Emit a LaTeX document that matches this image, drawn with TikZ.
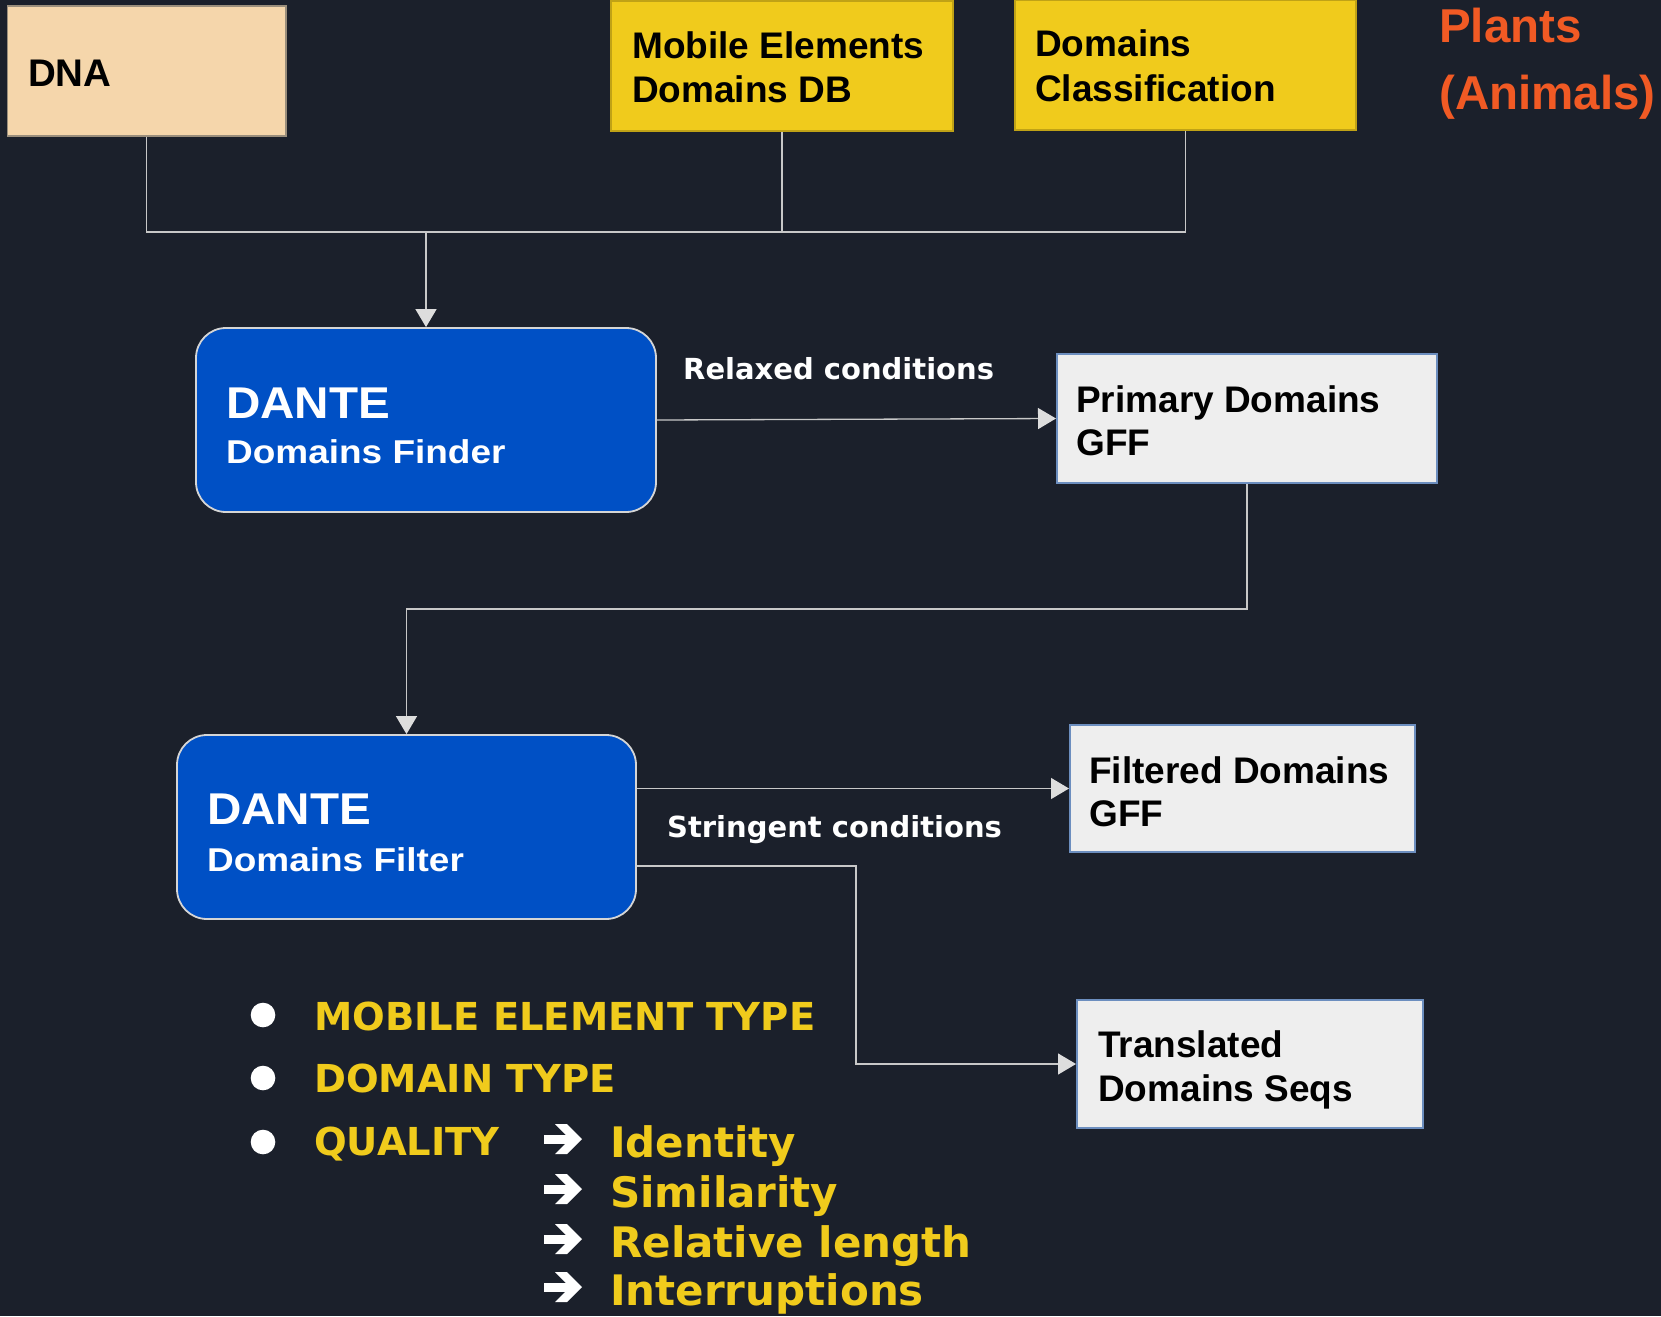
\documentclass[tikz,border=0pt]{standalone}
\usepackage{fontspec}
\usetikzlibrary{arrows.meta,calc}
\setmainfont{Liberation Sans}
\newfontfamily\dv{DejaVu Sans}
\newfontfamily\lsA{Liberation Sans}[FakeStretch=1.07]
\newfontfamily\lsB{Liberation Sans}[FakeStretch=1.12]
\definecolor{bg}{HTML}{1B202B}
\definecolor{yel}{HTML}{F0CB1C}
\definecolor{dnafill}{HTML}{F5D6AB}
\definecolor{dnaline}{HTML}{9A8E7C}
\definecolor{bluefill}{HTML}{0050C5}
\definecolor{blueline}{HTML}{D5D5D5}
\definecolor{grayfill}{HTML}{EEEEEE}
\definecolor{grayline}{HTML}{6C8EBF}
\definecolor{lineC}{HTML}{C8C8C8}
\definecolor{tipC}{HTML}{DDDDDD}
\definecolor{orangeC}{HTML}{F15A24}
\begin{document}
\begin{tikzpicture}[x=1pt,y=-1pt,
  conn/.style={draw=lineC, line width=1.3pt},
  arr/.style={conn, -{Triangle[width=21pt,length=18pt,color=tipC]}},
  boxbase/.style={rectangle, inner sep=0pt, line width=1.5pt},
  dnabox/.style={boxbase, fill=dnafill, draw=dnaline},
  yelbox/.style={boxbase, fill=yel, draw=yel!80!black},
  bluebox/.style={boxbase, fill=bluefill, draw=blueline, rounded corners=30pt, line width=1.8pt},
  graybox/.style={boxbase, fill=grayfill, draw=grayline, line width=2pt},
  txt/.style={inner sep=0pt, anchor=base west},
  boxtxt/.style={txt, font=\fontsize{37}{44}\selectfont\bfseries, text=black},
  dante/.style={txt, font=\lsA\fontsize{44.5}{50}\selectfont\bfseries, text=white},
  dantesub/.style={txt, font=\lsB\fontsize{33}{40}\selectfont\bfseries, text=white},
  condtxt/.style={txt, font=\dv\fontsize{29}{34}\selectfont\bfseries, text=white},
  plant/.style={txt, font=\fontsize{47.5}{52}\selectfont\bfseries, text=orangeC},
  bultxt/.style={txt, font=\dv\fontsize{38.5}{44}\selectfont\bfseries, text=yel},
  subtxt/.style={txt, font=\dv\fontsize{42}{46}\selectfont\bfseries, text=yel},
  bulletdot/.style={circle, fill=white, inner sep=0pt, minimum size=24.6pt},
  heavyarrow/.pic={
    \fill[white] (0,-13.5) rectangle (30,-22);
    \fill[white] (11,-33) -- (23,-33) -- (38,-18) -- (23,-3) -- (11,-3) -- (26,-18) -- cycle;
  }
]
\fill[bg] (0,0) rectangle (1661,1316);
\useasboundingbox (0,0) rectangle (1661,1316);

% boxes
\node[dnabox, minimum width=278.5pt, minimum height=130pt] (dna) at (146.75,71) {};
\node[yelbox, minimum width=342pt, minimum height=130pt] (mob) at (782,66) {};
\node[yelbox, minimum width=341pt, minimum height=130pt] (cls) at (1185.5,65) {};
\node[bluebox, minimum width=460pt, minimum height=184pt] (finder) at (426,420) {};
\node[bluebox, minimum width=459pt, minimum height=184pt] (filter) at (406.5,827) {};
\node[graybox, minimum width=380pt, minimum height=129pt] (prim) at (1247,418.5) {};
\node[graybox, minimum width=345pt, minimum height=127pt] (filtd) at (1242.5,788.5) {};
\node[graybox, minimum width=346pt, minimum height=128pt] (trans) at (1250,1064) {};

% box texts
\node[boxtxt, font=\fontsize{38.5}{44}\selectfont\bfseries] (tdna) at (28,87) {DNA};
\node[boxtxt] (tmob1) at (632,59) {Mobile Elements};
\node[boxtxt] (tmob2) at (632,103) {Domains DB};
\node[boxtxt] (tcls1) at (1035,57) {Domains};
\node[boxtxt] (tcls2) at (1035,102) {Classification};
\node[plant] (tpl1) at (1439,43) {Plants};
\node[plant] (tpl2) at (1439,110) {(Animals)};

\node[dante] (tfin1) at (226,418) {DANTE};
\node[dantesub] (tfin2) at (226,463) {Domains Finder};
\node[dante] (tfil1) at (207,824) {DANTE};
\node[dantesub] (tfil2) at (207,871) {Domains Filter};

\node[boxtxt] (tpr1) at (1076,412) {Primary Domains};
\node[boxtxt] (tpr2) at (1076,455) {GFF};
\node[boxtxt] (tfd1) at (1089,783) {Filtered Domains};
\node[boxtxt] (tfd2) at (1089,826) {GFF};
\node[boxtxt] (ttr1) at (1098,1057) {Translated};
\node[boxtxt] (ttr2) at (1098,1101) {Domains Seqs};

\node[condtxt] (relax) at (683,379) {Relaxed conditions};
\node[condtxt] (string) at (667,837) {Stringent conditions};

% connectors
\coordinate (j) at (426,232);
\draw[conn] (dna.south) |- (j);
\draw[conn] (mob.south) |- (j);
\draw[conn] (cls.south) |- (j);
\draw[arr] (j) -- (finder.north);
\draw[arr] (finder.east) -- (prim.west);
\coordinate (bend) at (1247,609);
\draw[arr] (prim.south) -- (bend) -| (filter.north);
\draw[arr] (filter.east |- filtd.west) -- (filtd.west);
\coordinate (tb) at (856,1064);
\draw[arr] ([yshift=-39pt]filter.east) -| (tb) -- (trans.west);

% bullet list
\node[bulletdot] (b1) at (263,1015) {};
\node[bulletdot] (b2) at (263,1078) {};
\node[bulletdot] (b3) at (263,1142) {};
\node[bultxt] (l1) at (314,1030) {MOBILE ELEMENT TYPE};
\node[bultxt] (l2) at (314,1092) {DOMAIN TYPE};
\node[bultxt] (l3) at (314,1155) {QUALITY};

\pic at (544,1157) {heavyarrow};
\pic at (544,1207) {heavyarrow};
\pic at (544,1257) {heavyarrow};
\pic at (544,1305) {heavyarrow};
\node[subtxt] (s1) at (610,1157) {Identity};
\node[subtxt] (s2) at (610,1207) {Similarity};
\node[subtxt] (s3) at (610,1257) {Relative length};
\node[subtxt] (s4) at (610,1305) {Interruptions};
\end{tikzpicture}
\end{document}
